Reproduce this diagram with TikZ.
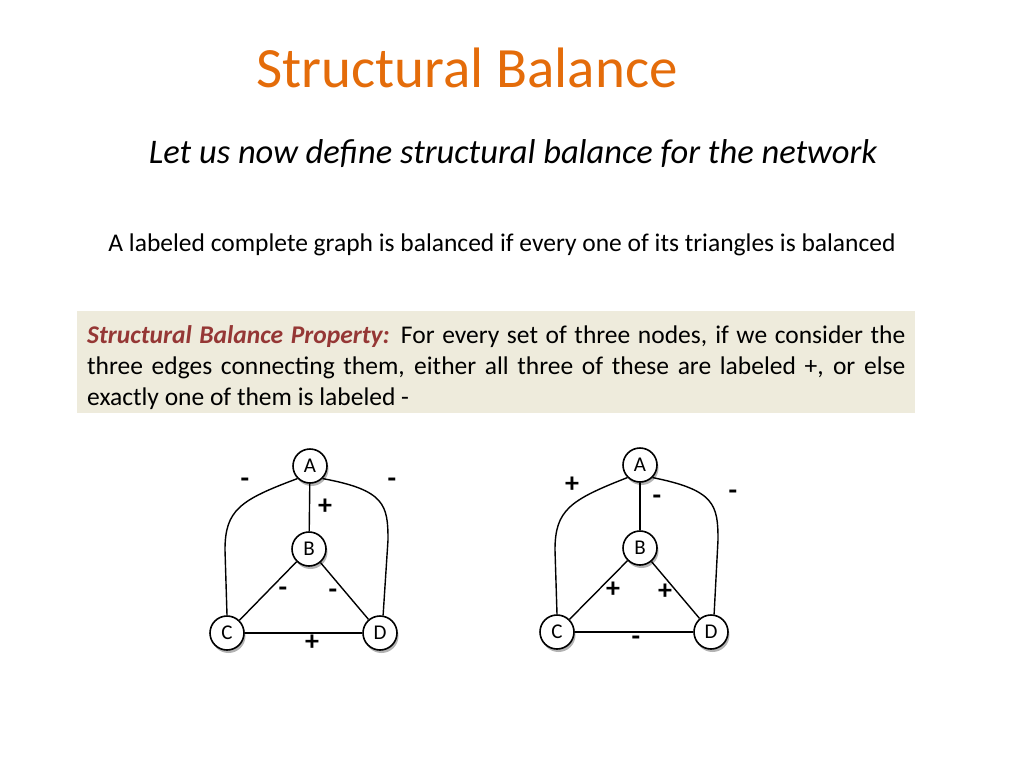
\documentclass[tikz,border=0pt]{standalone}
\usepackage{fontspec}
\setmainfont{Carlito}
\usetikzlibrary{shadows}
\definecolor{ttl}{HTML}{E46C0A}
\definecolor{boxbg}{HTML}{EEEBDC}
\definecolor{prop}{HTML}{953735}
\begin{document}
\begin{tikzpicture}[x=1pt,y=-1pt,
  vtx/.style={circle,draw,line width=1.6pt,fill=white,minimum size=34pt,inner sep=0pt,font=\fontsize{21}{21}\selectfont,
    drop shadow={shadow xshift=1.5pt,shadow yshift=-3pt,opacity=0.6}},
  edge/.style={line width=1.4pt},
  lab/.style={font=\bfseries\fontsize{28}{28}\selectfont}]
\useasboundingbox (0,0) rectangle (1024,768);
\node[text=ttl,font=\fontsize{57}{60}\selectfont] (title) at (467,68) {Structural Balance};
\node[font=\itshape\fontsize{34.5}{36}\selectfont] (sub) at (513,154) {Let us now define structural balance for the network};
\node[font=\fontsize{25.5}{28}\selectfont] (def) at (502,245) {A labeled complete graph is balanced if every one of its triangles is balanced};
\node[fill=boxbg,minimum width=838pt,minimum height=102pt,anchor=north west,inner sep=0pt] (box) at (77,311) {};
\node[anchor=north west,text width=818pt,align=justify,inner sep=0pt,font=\fontsize{25.5}{31}\selectfont] (prop) at (87,325)
 {\hyphenpenalty=10000\textcolor{prop}{\textbf{\textit{Structural Balance Property:}}} For every set of three nodes, if we consider the three edges connecting them, either all three of these are labeled +, or else exactly one of them is labeled -};
% left graph
\node[vtx] (A1) at (310,466) {A};
\node[vtx] (B1) at (309,549) {B};
\node[vtx] (C1) at (227,633) {C};
\node[vtx] (D1) at (380,633) {D};
\draw[edge] (A1) -- (B1);
\draw[edge] (B1) -- (C1);
\draw[edge] (B1) -- (D1);
\draw[edge] (C1) -- (D1);
\draw[edge] (A1.225) .. controls (240,500) and (225,510) .. (225,550) -- (C1.90);
\draw[edge] (A1.-45) .. controls (385,490) and (388,505) .. (388,540) -- (D1.80);
\node[lab] (l1a) at (245,483) {-};
\node[lab] (l1b) at (392,483) {-};
\node[lab] (l1c) at (325,507) {+};
\node[lab] (l1d) at (283,592) {-};
\node[lab] (l1e) at (333,594) {-};
\node[lab] (l1f) at (312,643) {+};
% right graph
\node[vtx] (A2) at (640,465) {A};
\node[vtx] (B2) at (640,548) {B};
\node[vtx] (C2) at (557,632) {C};
\node[vtx] (D2) at (711,632) {D};
\draw[edge] (A2) -- (B2);
\draw[edge] (B2) -- (C2);
\draw[edge] (B2) -- (D2);
\draw[edge] (C2) -- (D2);
\draw[edge] (A2.225) .. controls (570,500) and (555,510) .. (555,550) -- (C2.90);
\draw[edge] (A2.-45) .. controls (715,490) and (718,505) .. (718,540) -- (D2.80);
\node[lab] (l2a) at (572,485) {+};
\node[lab] (l2b) at (733,495) {-};
\node[lab] (l2c) at (657,500) {-};
\node[lab] (l2d) at (613,590) {+};
\node[lab] (l2e) at (665,592) {+};
\node[lab] (l2f) at (636,641) {-};
\end{tikzpicture}
\end{document}
